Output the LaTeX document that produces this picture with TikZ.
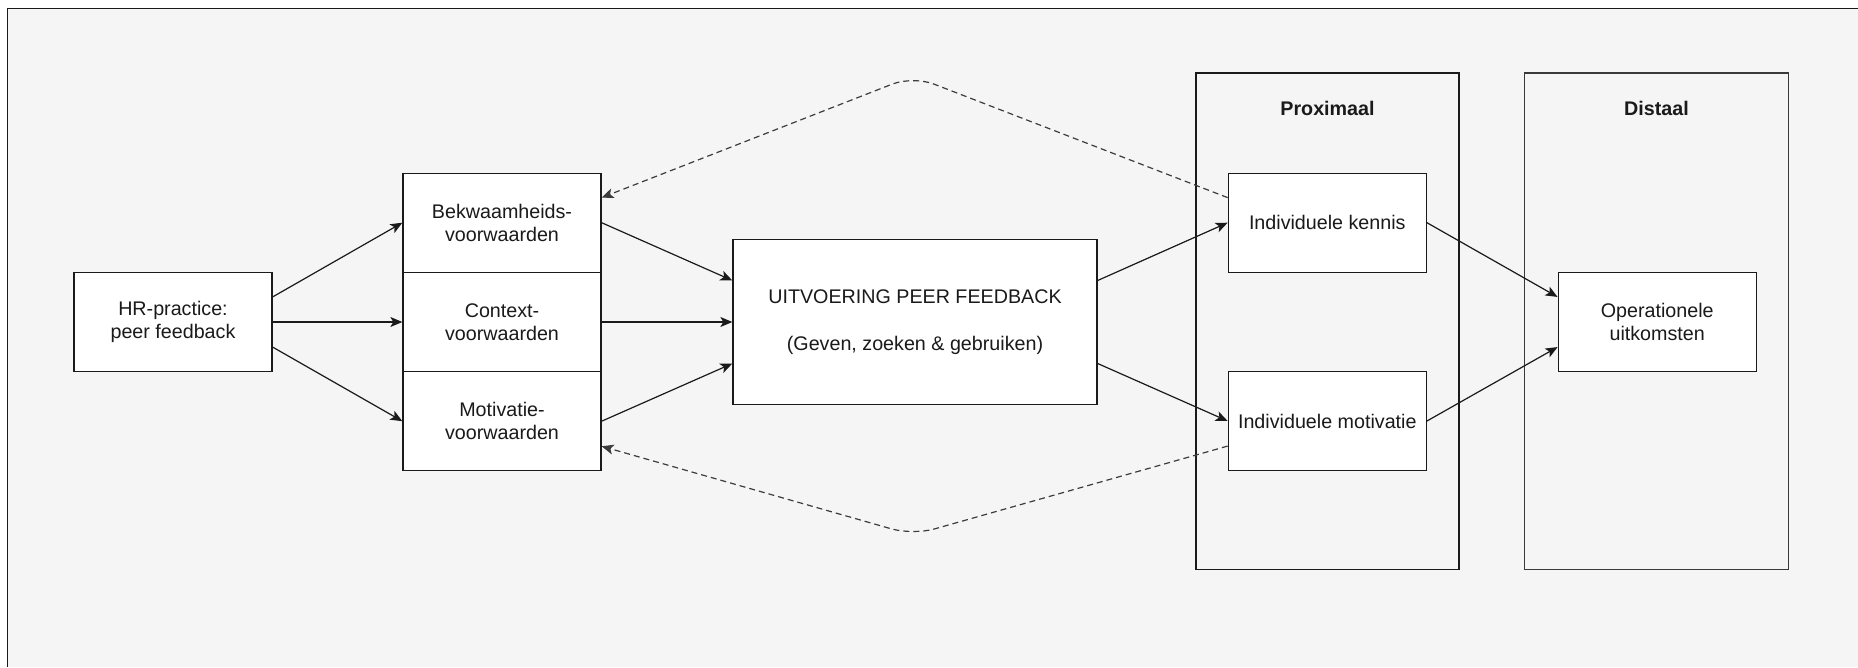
\documentclass[tikz,border=0pt]{standalone}
\usepackage{fontspec}
\setmainfont{Liberation Sans}
\usetikzlibrary{arrows.meta,calc}
\definecolor{bgcol}{HTML}{F5F5F5}
\definecolor{ink}{HTML}{1A1A1A}
\tikzset{
  box/.style={draw=ink, line width=1.3pt, fill=white, text=ink, align=center,
    inner sep=0pt, minimum width=198pt, minimum height=99pt,
    font=\fontsize{19.7}{23.4}\selectfont},
  frame/.style={draw=ink, line width=1.2pt},
  title/.style={text=ink, font=\fontsize{19.7}{23.4}\selectfont\bfseries},
  arr/.style={draw=ink, line width=1.2pt, -{Stealth[length=12pt,width=10pt,inset=3pt]}},
  fb/.style={draw=ink!85, line width=1.2pt, dash pattern=on 6pt off 4pt,
    rounded corners=22pt, -{Stealth[length=12pt,width=10pt,inset=3pt]}},
}
\begin{document}
\begin{tikzpicture}[x=1pt,y=-1pt]
\useasboundingbox (0,0) rectangle (1858,667);
\fill[white] (0,0) rectangle (1858,667);
\fill[bgcol] (7.5,8.5) rectangle (1858,667);
\draw[ink, line width=1.5pt] (7.5,667) -- (7.5,8.5) -- (1858,8.5);

% group frames
\draw[frame] (1196,73) rectangle (1459,569.5);
\draw[draw=gray!45!black, line width=1.6pt] (1524.5,73) rectangle (1788.5,569.5);
\node[title] (tprox) at (1327.5,108.5) {Proximaal};
\node[title] (tdist) at (1656.5,108.5) {Distaal};

% boxes
\node[box] (hr)  at (173,322)   {HR-practice:\\peer feedback};
\node[box] (bek) at (502,222.7) {Bekwaamheids-\\voorwaarden};
\node[box] (ctx) at (502,322)   {Context-\\voorwaarden};
\node[box] (mot) at (502,421.2) {Motivatie-\\voorwaarden};
\node[box, minimum width=364pt, minimum height=164.7pt] (uit) at (915,322)
  {UITVOERING PEER FEEDBACK\\[23.4pt](Geven, zoeken \& gebruiken)};
\node[box] (ken)  at (1327.3,222.7) {Individuele kennis};
\node[box] (imot) at (1327.3,421)   {Individuele motivatie};
\node[box] (op)   at (1657.2,322)   {Operationele\\uitkomsten};

% solid arrows
\draw[arr] ($(hr.north east)!.25!(hr.south east)$) -- (bek.west);
\draw[arr] (hr.east) -- (ctx.west);
\draw[arr] ($(hr.north east)!.75!(hr.south east)$) -- (mot.west);
\draw[arr] (bek.east) -- ($(uit.north west)!.25!(uit.south west)$);
\draw[arr] (ctx.east) -- (uit.west);
\draw[arr] (mot.east) -- ($(uit.north west)!.75!(uit.south west)$);
\draw[arr] ($(uit.north east)!.25!(uit.south east)$) -- (ken.west);
\draw[arr] ($(uit.north east)!.75!(uit.south east)$) -- (imot.west);
\draw[arr] (ken.east) -- ($(op.north west)!.25!(op.south west)$);
\draw[arr] (imot.east) -- ($(op.north west)!.75!(op.south west)$);

% dashed feedback arrows
\coordinate (peakT) at (913,76);
\coordinate (peakB) at (913,535);
\draw[fb] ($(ken.north west)!.25!(ken.south west)$) -- (peakT) -- ($(bek.north east)!.25!(bek.south east)$);
\draw[fb] ($(imot.north west)!.75!(imot.south west)$) -- (peakB) -- ($(mot.north east)!.75!(mot.south east)$);
\end{tikzpicture}
\end{document}
